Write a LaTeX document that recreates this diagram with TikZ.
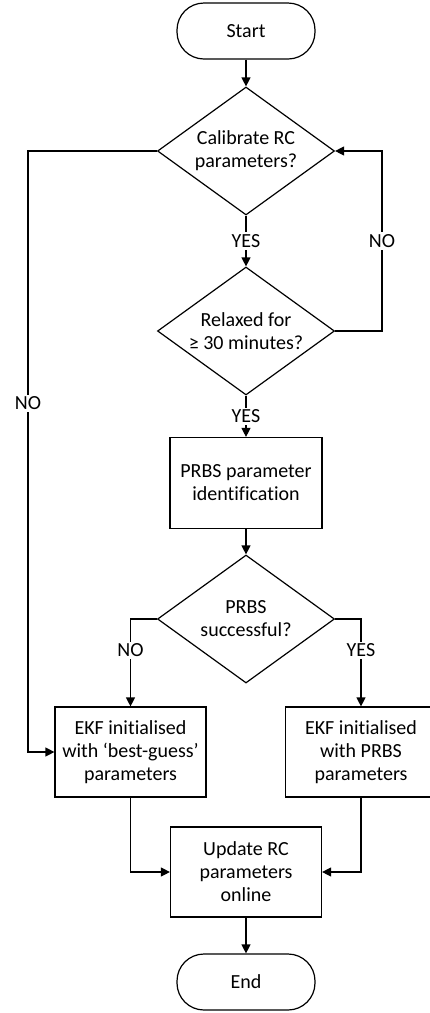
\documentclass[tikz,border=0pt]{standalone}
\usepackage{fontspec}
\setmainfont[Ligatures=CommonOff]{Carlito}
\usetikzlibrary{shapes.geometric,arrows.meta}

\tikzset{
    term/.style={draw, rounded corners=27pt, minimum width=138pt, minimum height=56pt, inner sep=0pt},
    decision/.style={draw, diamond, aspect=1.4, minimum width=177pt, minimum height=128pt, inner sep=0pt, align=center},
    procbox/.style={draw, rectangle, minimum width=151pt, minimum height=90pt, inner sep=0pt, align=center},
    flow/.style={-{Triangle[length=9pt,width=9pt]}},
    lbl/.style={fill=white, inner sep=2pt}
}

\begin{document}
\begin{tikzpicture}[x=1pt, y=-1pt, line width=1.2pt, font=\fontsize{20}{23}\selectfont]

    \useasboundingbox (0,0) rectangle (429,1013);

    % start
    \node[term] (start) at (246,31) {Start};

    % decisions
    \node[decision] (calib) at (246,151) {Calibrate RC\\parameters?};
    \node[decision] (relax) at (246,331) {Relaxed for\\≥ 30 minutes?};

    % prbs
    \node[procbox, minimum width=152pt, minimum height=91pt] (prbs) at (246,483) {PRBS parameter\\identification};
    \node[decision] (succ) at (246,619) {PRBS\\successful?};

    % ekf
    \node[procbox] (ekfa) at (130.5,752) {EKF initialised\\with `best-guess'\\parameters};
    \node[procbox] (ekfb) at (361,752) {EKF initialised\\with PRBS\\parameters};

    % update + end
    \node[procbox] (update) at (246,872) {Update RC\\parameters\\online};
    \node[term] (end) at (246,982) {End};

    % loop corners
    \coordinate (loopr) at (382,331);
    \coordinate (loopl) at (28,151);

    % arrows
    \draw[flow] (start) -- (calib);
    \draw[flow] (calib) -- node[lbl] {YES} (relax);
    \draw[flow] (relax.east) -- (loopr) |- node[lbl, pos=0.25] {NO} (calib.east);
    \draw[flow] (calib.west) -- (loopl) |- node[lbl, pos=0.21] {NO} (ekfa.west);
    \draw[flow] (relax) -- node[lbl] {YES} (prbs);
    \draw[flow] (prbs) -- (succ);
    \draw[flow] (succ.west) -| node[lbl, pos=0.68] {NO} (ekfa.north);
    \draw[flow] (succ.east) -| node[lbl, pos=0.68] {YES} (ekfb.north);
    \draw[flow] (ekfa.south) |- (update.west);
    \draw[flow] (ekfb.south) |- (update.east);
    \draw[flow] (update) -- (end);

\end{tikzpicture}
\end{document}
